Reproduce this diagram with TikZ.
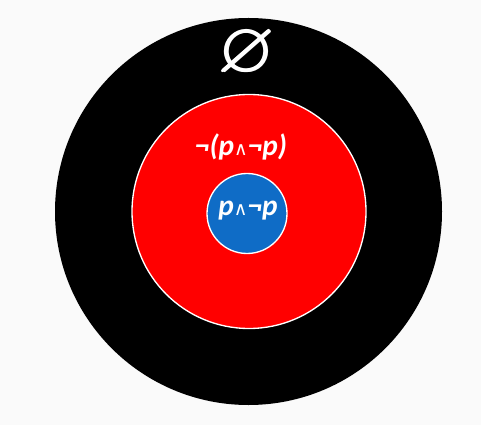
\documentclass[tikz,border=0pt]{standalone}
\usepackage{amsmath,amssymb}
\usepackage{fontspec}
\setmainfont{Carlito}
\newfontfamily\symfont{DejaVu Sans}
\usetikzlibrary{positioning}
\definecolor{cred}{HTML}{FF0000}
\definecolor{cblue}{HTML}{0F6CC6}
\definecolor{cback}{HTML}{FAFAFA}
\tikzset{
  every picture/.style={x=0.75pt, y=0.75pt},
  disc/.style={circle, fill=#1, draw=white, line width=1pt, inner sep=0pt},
  label/.style={text=white, font=\bfseries\itshape\fontsize{22}{22}\selectfont},
}
\newcommand{\lwedge}{{\symfont\mdseries\upshape\fontsize{14}{14}\selectfont ∧}}

\begin{document}
\begin{tikzpicture}
  \fill[cback] (0,0) rectangle (481,425);
  \useasboundingbox (0,0) rectangle (481,425);
  % three nested regions
  \node[disc=black, draw=none, minimum size=387*0.75pt] (outer) at (248.5,213.5) {};
  \node[disc=cred, minimum size=234*0.75pt] (middle) at (249,213.5) {};
  \node[disc=cblue, minimum size=80*0.75pt] (inner) at (247,211.5) {};
  % labels
  \node[text=white, inner sep=0pt, font=\fontsize{54}{54}\selectfont] (empty) at (247,371) {$\pmb{\varnothing}$};
  \node[label] (taut) at (241,278) {¬(p\lwedge¬p)};
  \node[label] (contra) at (248,214) {p\lwedge¬p};
\end{tikzpicture}
\end{document}
